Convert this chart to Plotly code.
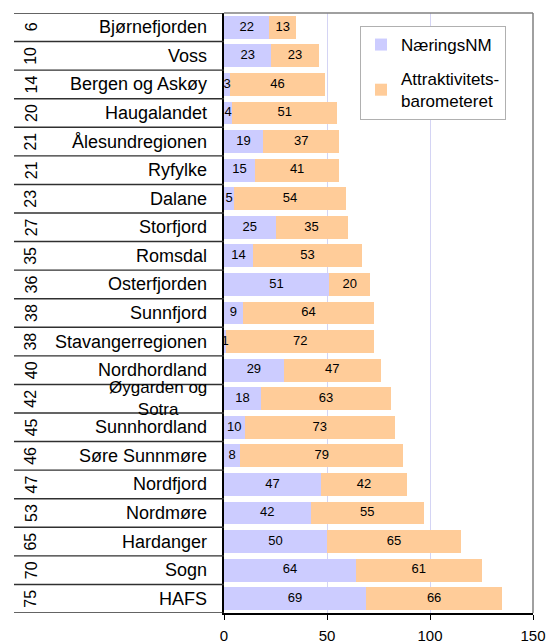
import plotly.graph_objects as go

# Regions (top to bottom), their rank and the two score components
regions = [
    "Bjørnefjorden", "Voss", "Bergen og Askøy", "Haugalandet", "Ålesundregionen",
    "Ryfylke", "Dalane", "Storfjord", "Romsdal", "Osterfjorden", "Sunnfjord",
    "Stavangerregionen", "Nordhordland", "Øygarden og<br>Sotra", "Sunnhordland",
    "Søre Sunnmøre", "Nordfjord", "Nordmøre", "Hardanger", "Sogn", "HAFS",
]
ranks = [6, 10, 14, 20, 21, 21, 23, 27, 35, 36, 38, 38, 40, 42, 45, 46, 47, 53, 65, 70, 75]
naering = [22, 23, 3, 4, 19, 15, 5, 25, 14, 51, 9, 1, 29, 18, 10, 8, 47, 42, 50, 64, 69]
attrakt = [13, 23, 46, 51, 37, 41, 54, 35, 53, 20, 64, 72, 47, 63, 73, 79, 42, 55, 65, 61, 66]
x_ticks = [0, 50, 100, 150]

FONT = "Liberation Sans, Arial, sans-serif"
W, H = 553, 644
ML, MR, MT, MB = 224, 20, 13, 31
PW = W - ML - MR


def px_to_paper_x(px):
    return (px - ML) / PW


ypos = list(range(len(regions)))

fig = go.Figure()
fig.add_bar(
    y=ypos, x=naering, orientation="h", name="NæringsNM", legendgroup="a",
    marker=dict(color="#CCCCFF", line_width=0), hoverinfo="skip",
)
fig.add_bar(
    y=ypos, x=attrakt, orientation="h", name="Attraktivitets-<br>barometeret",
    legendgroup="b",
    marker=dict(color="#FFCC99", line_width=0), hoverinfo="skip",
)

# value labels centred in each segment
fig.add_scatter(
    x=[v / 2 for v in naering], y=ypos, mode="text",
    text=[str(v) for v in naering], showlegend=False, hoverinfo="skip",
    textfont=dict(family=FONT, size=13, color="black"),
)
fig.add_scatter(
    x=[a + b / 2 for a, b in zip(naering, attrakt)], y=ypos, mode="text",
    text=[str(v) for v in attrakt], showlegend=False, hoverinfo="skip",
    textfont=dict(family=FONT, size=13, color="black"),
)

shapes = []
# table rules on the left side
for k in range(len(regions) + 1):
    shapes.append(dict(
        type="line", xref="paper", yref="y",
        x0=px_to_paper_x(14), x1=0, y0=k - 0.5, y1=k - 0.5,
        line=dict(color="#303030", width=1.4),
    ))
# plot-area frame (top and right)
shapes.append(dict(type="line", xref="paper", yref="paper", x0=0, x1=1, y0=1, y1=1,
                   line=dict(color="#808080", width=1.5)))
shapes.append(dict(type="line", xref="paper", yref="paper", x0=1, x1=1, y0=0, y1=1,
                   line=dict(color="#808080", width=1.5)))

annotations = []
for i, (name, r) in enumerate(zip(regions, ranks)):
    two_line = "<br>" in name
    annotations.append(dict(
        xref="paper", yref="y", x=px_to_paper_x(209), y=i, text=name,
        xanchor="right", yanchor="middle", showarrow=False,
        font=dict(family=FONT, size=17 if two_line else 18, color="black"),
    ))
    annotations.append(dict(
        xref="paper", yref="y", x=px_to_paper_x(31), y=i, text=str(r),
        textangle=-90, xanchor="center", yanchor="middle", showarrow=False,
        font=dict(family=FONT, size=16, color="black"),
    ))

fig.update_layout(
    width=W, height=H,
    margin=dict(l=ML, r=MR, t=MT, b=MB, pad=0, autoexpand=False),
    paper_bgcolor="white", plot_bgcolor="white",
    barmode="stack", bargap=0.2,
    shapes=shapes, annotations=annotations,
    legend=dict(
        x=px_to_paper_x(360), y=1 - (26 - MT) / (H - MT - MB),
        xanchor="left", yanchor="top",
        bgcolor="white", bordercolor="#B0B0B0", borderwidth=1,
        traceorder="grouped", tracegroupgap=9,
        font=dict(family=FONT, size=17, color="black"),
    ),
    xaxis=dict(
        range=[0, 150], tickvals=x_ticks, ticktext=[str(t) for t in x_ticks],
        showgrid=True, gridcolor="#D4D4F4", gridwidth=1,
        zeroline=False, showline=True, linecolor="black", linewidth=1.5,
        ticks="outside", ticklen=5, tickcolor="black", tickwidth=1.2,
        ticklabelstandoff=3, automargin=False,
        tickfont=dict(family=FONT, size=15, color="black"),
        fixedrange=True,
    ),
    yaxis=dict(
        range=[len(regions) - 0.5, -0.5], showticklabels=False,
        showgrid=False, zeroline=False, showline=True, linecolor="black",
        linewidth=1.5, ticks="", fixedrange=True, automargin=False,
    ),
)

fig.write_html("out.html")
